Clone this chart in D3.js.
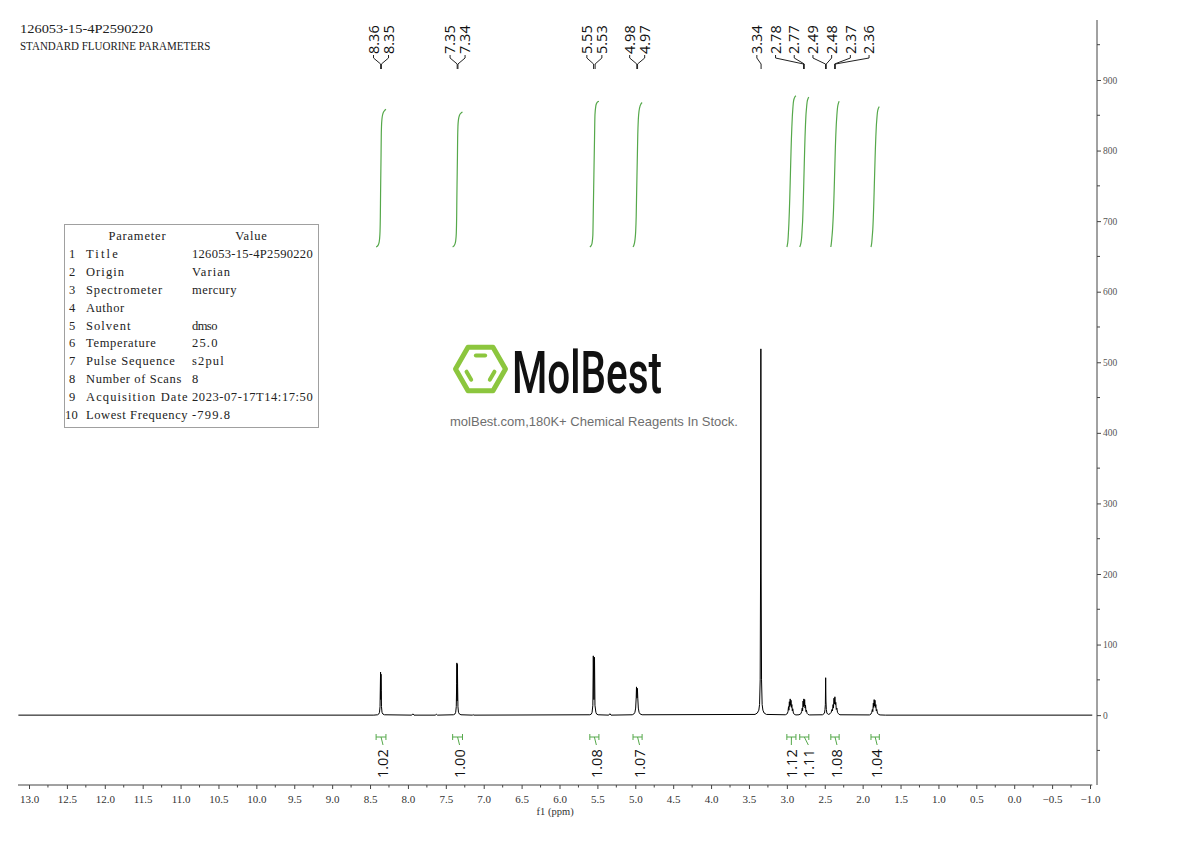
<!DOCTYPE html>
<html><head><meta charset="utf-8">
<script src="https://cdn.jsdelivr.net/npm/d3@7"></script>
<style>body{margin:0;background:#fff} svg{display:block}</style>
</head><body><svg id="c" width="1190" height="841"></svg>
<script>
// ---------------- DATA ----------------
const titleLines = ["126053-15-4P2590220", "STANDARD FLUORINE PARAMETERS"];
const paramHeader = ["Parameter", "Value"];
const paramNames = ["Title","Origin","Spectrometer","Author","Solvent","Temperature","Pulse Sequence","Number of Scans","Acquisition Date","Lowest Frequency"];
const paramValues = ["126053-15-4P2590220","Varian","mercury","","dmso","25.0","s2pul","8","2023-07-17T14:17:50","-799.8"];

const xTickValues = [13.0,12.5,12.0,11.5,11.0,10.5,10.0,9.5,9.0,8.5,8.0,7.5,7.0,6.5,6.0,5.5,5.0,4.5,4.0,3.5,3.0,2.5,2.0,1.5,1.0,0.5,0.0,-0.5,-1.0];
const yTickValues = [0,100,200,300,400,500,600,700,800,900];
const yMinorValues = [-50,50,150,250,350,450,550,650,750,850,950];

const peakLabels = [8.36,8.35,7.35,7.34,5.55,5.53,4.98,4.97,3.34,2.78,2.77,2.49,2.48,2.37,2.36];

const integralValues = [1.02,1.00,1.08,1.07,1.12,1.11,1.08,1.04];
const integralFrom   = [8.42,7.41,5.60,5.03,3.00,2.83,2.42,1.89];
const integralTo     = [8.29,7.28,5.48,4.91,2.88,2.71,2.31,1.78];

// spectrum vertices [ppm, intensity]
const baseStart = [[13.14,0],[8.45,0]];
const peak836 = [[8.40,0.5],[8.385,1.5],[8.375,4],[8.368,12],[8.364,40],[8.361,61],[8.358,22],[8.355,58],[8.352,35],[8.349,12],[8.342,4],[8.33,1.5],[8.31,0.5]];
const bumps79 = [[7.95,0],[7.935,1.8],[7.92,0],[7.64,0],[7.625,1.2],[7.61,0]];
const peak735 = [[7.40,0.5],[7.38,1.5],[7.37,4],[7.362,12],[7.357,45],[7.354,74],[7.351,20],[7.347,72],[7.344,40],[7.34,12],[7.333,4],[7.32,1.5],[7.30,0.5]];
const bumps71 = [[7.15,0],[7.14,0.8],[7.13,0]];
const peak554 = [[5.60,0.5],[5.58,1.5],[5.57,4],[5.56,14],[5.554,84],[5.546,22],[5.538,82],[5.532,14],[5.52,4],[5.51,1.5],[5.49,0.5]];
const bumps53 = [[5.35,0],[5.335,2],[5.32,0]];
const peak497 = [[5.04,0.5],[5.02,1.5],[5.005,4],[4.995,10],[4.988,25],[4.984,40],[4.978,24],[4.972,38],[4.967,24],[4.96,10],[4.95,4],[4.935,1.5],[4.91,0.5]];
const peak334 = [[3.42,1],[3.39,3],[3.37,7],[3.36,15],[3.352,50],[3.347,200],[3.343,519],[3.339,200],[3.334,50],[3.326,15],[3.316,7],[3.30,3],[3.27,1]];
const mult295 = [[3.02,0.5],[2.995,2],[2.985,5],[2.978,12],[2.973,7],[2.967,19],[2.962,12],[2.956,23],[2.951,14],[2.945,21],[2.94,11],[2.934,15],[2.928,6],[2.922,9],[2.914,3],[2.90,1],[2.88,0.3]];
const mult277 = [[2.84,0.5],[2.815,2],[2.805,5],[2.797,10],[2.792,6],[2.786,20],[2.781,12],[2.776,23],[2.771,13],[2.765,22],[2.76,10],[2.754,14],[2.748,5],[2.742,7],[2.733,2.5],[2.72,1],[2.70,0.3]];
const peak249 = [[2.53,0.5],[2.51,2],[2.503,3],[2.497,8],[2.492,15],[2.488,53],[2.484,20],[2.479,8],[2.472,3],[2.46,1.5]];
const mult237 = [[2.45,1],[2.43,2],[2.415,4],[2.405,8],[2.398,6],[2.39,15],[2.385,10],[2.378,24],[2.372,16],[2.366,26],[2.36,15],[2.354,18],[2.348,8],[2.34,10],[2.332,4],[2.32,2],[2.30,0.5]];
const mult184 = [[1.91,0.3],[1.89,1.5],[1.88,4],[1.872,8],[1.866,5],[1.859,17],[1.854,11],[1.848,22],[1.843,13],[1.837,21],[1.832,11],[1.826,15],[1.82,6],[1.813,8],[1.805,3],[1.79,1],[1.77,0.3]];
const baseEnd = [[1.70,0],[-1.03,0]];

const watermarkName = "MolBest";
const watermarkTag = "molBest.com,180K+ Chemical Reagents In Stock.";

// ---------------- CHART ----------------
const spectrum = [].concat(baseStart, peak836, bumps79, peak735, bumps71, peak554, bumps53, peak497,
  peak334, mult295, mult277, peak249, mult237, mult184, baseEnd);

const svg = d3.select("#c");
const W = 1190, H = 841;
svg.append("rect").attr("width", W).attr("height", H).attr("fill", "#fff");

const x = d3.scaleLinear().domain([13, -1]).range([29, 1090]);
const y = d3.scaleLinear().domain([-99, 985]).range([785, 20]);
const yInt = d3.scaleLinear().domain([0, 1]).range([247, 112]);
const axisX = 1097, axisY = 785;
const serif = "'Liberation Serif', 'DejaVu Serif', serif";
const sans = "'Open Sans', 'Liberation Sans', sans-serif";
const green = "#55a84a";

// title
svg.selectAll("text.title").data(titleLines).join("text")
  .attr("class", "title").attr("x", 20).attr("y", (d, i) => 28.5 + i * 17).attr("dy", "0.35em")
  .attr("font-family", serif).attr("font-size", 13.5).attr("fill", "#222")
  .attr("textLength", d => d.length * (d.length > 20 ? 6.8 : 7.0)).attr("lengthAdjust", "spacingAndGlyphs")
  .text(d => d);

// parameter table
const tbl = svg.append("g");
tbl.append("rect").attr("x", 64.5).attr("y", 224.5).attr("width", 254).attr("height", 203)
  .attr("fill", "#fff").attr("stroke", "#a0a0a0").attr("stroke-width", 1);
const cw = 6.35;
function ttext(g, s, xx, yy, anchor) {
  if (!s) return;
  const t = g.append("text").attr("x", xx).attr("y", yy).attr("dy", "0.35em")
    .attr("text-anchor", anchor || "start")
    .attr("font-family", serif).attr("font-size", 12.5).attr("fill", "#222");
  if (s.length > 1) t.attr("textLength", s.length * cw).attr("lengthAdjust", "spacing");
  t.text(s);
}
ttext(tbl, paramHeader[0], 137, 236, "middle");
ttext(tbl, paramHeader[1], 251, 236, "middle");
paramNames.forEach((n, i) => {
  const yy = 254 + i * 17.8;
  ttext(tbl, String(i + 1), i + 1 >= 10 ? 65 : 69, yy);
  ttext(tbl, n, 86, yy);
  ttext(tbl, paramValues[i], 192, yy);
});

// watermark
const wm = svg.append("g");
const hcx = 480.5, hcy = 369, hR = 25;
const hexPts = d3.range(6).map(k => [hcx + hR * Math.cos(k * Math.PI / 3), hcy + hR * Math.sin(k * Math.PI / 3)]);
wm.append("path").attr("d", "M" + hexPts.map(p => p.join(",")).join("L") + "Z")
  .attr("fill", "none").attr("stroke", "#8cc63e").attr("stroke-width", 5).attr("stroke-linejoin", "round");
[[4, 5], [2, 3], [0, 1]].forEach(([a, b]) => {
  const s = 0.62, sh = 0.2;
  const pa = [hcx + (hexPts[a][0] - hcx) * s, hcy + (hexPts[a][1] - hcy) * s];
  const pb = [hcx + (hexPts[b][0] - hcx) * s, hcy + (hexPts[b][1] - hcy) * s];
  const qa = [pa[0] + (pb[0] - pa[0]) * sh, pa[1] + (pb[1] - pa[1]) * sh];
  const qb = [pb[0] + (pa[0] - pb[0]) * sh, pb[1] + (pa[1] - pb[1]) * sh];
  wm.append("line").attr("x1", qa[0]).attr("y1", qa[1]).attr("x2", qb[0]).attr("y2", qb[1])
    .attr("stroke", "#8cc63e").attr("stroke-width", 4).attr("stroke-linecap", "round");
});
wm.append("text").attr("x", 512).attr("y", 393).attr("font-family", "Roboto, 'Liberation Sans', sans-serif")
  .attr("font-weight", 500).attr("font-size", 60).attr("fill", "#111")
  .attr("textLength", 150).attr("lengthAdjust", "spacingAndGlyphs").text(watermarkName);
wm.append("text").attr("x", 594).attr("y", 421).attr("dy", "0.35em").attr("text-anchor", "middle")
  .attr("font-family", "'Liberation Sans', Arial, sans-serif").attr("font-size", 13).attr("fill", "#6e6e6e")
  .text(watermarkTag);

// spectrum
svg.append("path").datum(spectrum)
  .attr("d", d3.line().x(d => x(d[0])).y(d => y(d[1])))
  .attr("fill", "none").attr("stroke", "#000").attr("stroke-width", 1).attr("stroke-linejoin", "round");

// bottom axis
const gx = svg.append("g").attr("transform", `translate(0,${axisY})`);
gx.append("line").attr("x1", x(13.145)).attr("x2", x(-1.03)).attr("stroke", "#444");
gx.call(g => {
  const ax = d3.axisBottom(x).tickValues(xTickValues).tickSize(4).tickSizeOuter(0).tickPadding(6)
    .tickFormat(d3.format(".1f"));
  g.call(ax);
  g.select(".domain").remove();
  g.selectAll(".tick line").attr("stroke", "#444");
  g.selectAll(".tick text").attr("font-family", serif).attr("font-size", 11).attr("fill", "#333");
});
const xMinor = xTickValues.slice(0, -1).map(v => v - 0.25);
gx.selectAll("line.minor").data(xMinor).join("line").attr("class", "minor")
  .attr("x1", d => x(d)).attr("x2", d => x(d)).attr("y1", 0).attr("y2", 2.5).attr("stroke", "#444");
svg.append("text").attr("x", (x(13.145) + x(-1.03)) / 2).attr("y", 811).attr("dy", "0.35em")
  .attr("text-anchor", "middle").attr("font-family", serif).attr("font-size", 10.5).attr("fill", "#333")
  .text("f1 (ppm)");

// right axis
const gy = svg.append("g").attr("transform", `translate(${axisX},0)`);
gy.append("line").attr("y1", y(985)).attr("y2", y(-99)).attr("stroke", "#444");
gy.call(g => {
  const ax = d3.axisRight(y).tickValues(yTickValues).tickSize(4).tickSizeOuter(0).tickPadding(2);
  g.call(ax);
  g.select(".domain").remove();
  g.selectAll(".tick line").attr("stroke", "#444");
  g.selectAll(".tick text").attr("font-family", serif).attr("font-size", 9.5).attr("fill", "#555");
});
gy.selectAll("line.minor").data(yMinorValues).join("line").attr("class", "minor")
  .attr("x1", 0).attr("x2", 3).attr("y1", d => y(d)).attr("y2", d => y(d)).attr("stroke", "#444");

// label spreading: groups overlapping labels, centres each group on its mean
function spread(desired, gapFn) {
  let groups = desired.map((d, i) => ({ idx: [i], c: d }));
  const pos = g => { const gp = gapFn(g.idx.length); return g.idx.map((_, k) => g.c + (k - (g.idx.length - 1) / 2) * gp); };
  let changed = true;
  while (changed) {
    changed = false;
    for (let i = 0; i < groups.length - 1; i++) {
      const a = groups[i], b = groups[i + 1];
      const pa = pos(a), pb = pos(b);
      const gp = gapFn(a.idx.length + b.idx.length);
      if (pa[pa.length - 1] + gp > pb[0]) {
        const idx = a.idx.concat(b.idx);
        const c = d3.mean(idx, j => desired[j]);
        groups.splice(i, 2, { idx, c });
        changed = true; break;
      }
    }
  }
  const out = [];
  groups.forEach(g => pos(g).forEach((p, k) => out[g.idx[k]] = p));
  return out;
}

// peak labels
const lblX = spread(peakLabels.map(v => x(v)), n => n > 2 ? 18.7 : 15);
const gp = svg.append("g");
peakLabels.forEach((v, i) => {
  const lx = lblX[i], px = x(v);
  gp.append("text").attr("transform", `translate(${lx},54) rotate(-90)`).attr("dy", "0.36em")
    .attr("font-family", sans).attr("font-size", 14.5).attr("fill", "#111").text(d3.format(".2f")(v));
  gp.append("path").attr("d", `M${lx},55V58L${px},64V69`).attr("fill", "none")
    .attr("stroke", "#222").attr("stroke-width", 1);
});

// integrals
const intCenters = integralFrom.map((f, i) => x((f + integralTo[i]) / 2));
const intLblX = spread(intCenters, n => 17);
const gi = svg.append("g");
integralValues.forEach((v, i) => {
  const f = integralFrom[i], t = integralTo[i];
  const x1 = x(f), x2 = x(t), cx = (x1 + x2) / 2, lx = intLblX[i] + 2;
  gi.append("path").attr("d", `M${x1},734V740M${x1},737H${x2}M${x2},734V740M${cx},737L${lx},745`)
    .attr("fill", "none").attr("stroke", green).attr("stroke-width", 1);
  gi.append("text").attr("transform", `translate(${lx},778) rotate(-90)`).attr("dy", "0.36em")
    .attr("font-family", sans).attr("font-size", 14.5).attr("fill", "#111").text(d3.format(".2f")(v));
  // integral curve: cumulative area of the spectrum in the range
  const interp = p => {
    for (let k = 0; k < spectrum.length - 1; k++) {
      const a = spectrum[k], b = spectrum[k + 1];
      if (a[0] >= p && b[0] <= p) return a[1] + (b[1] - a[1]) * (a[0] - p) / (a[0] - b[0] || 1);
    }
    return 0;
  };
  const pts = [[f, interp(f)]].concat(spectrum.filter(d => d[0] < f && d[0] > t), [[t, interp(t)]]);
  let cum = 0; const cumPts = [[pts[0][0], 0]];
  for (let k = 1; k < pts.length; k++) {
    cum += (pts[k - 1][0] - pts[k][0]) * (pts[k - 1][1] + pts[k][1]) / 2;
    cumPts.push([pts[k][0], cum]);
  }
  gi.append("path").datum(cumPts)
    .attr("d", d3.line().x(d => x(d[0])).y(d => yInt(d[1] / cum * v)).curve(d3.curveMonotoneX))
    .attr("fill", "none").attr("stroke", green).attr("stroke-width", 1.2);
});
</script></body></html>
